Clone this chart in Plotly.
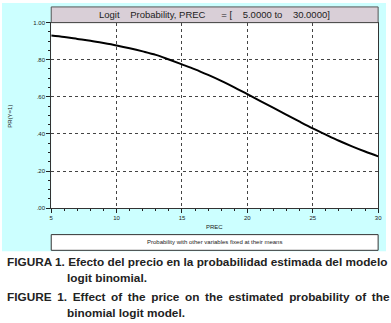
import plotly.graph_objects as go

W, H = 391, 323

prec = [5, 6, 7, 8, 9, 10, 11, 12, 13, 14, 15, 16, 17, 18, 19, 20,
        21, 22, 23, 24, 25, 26, 27, 28, 29, 30]
prob = [0.930, 0.922, 0.912, 0.902, 0.890, 0.877, 0.862, 0.845, 0.826, 0.801,
        0.775, 0.748, 0.718, 0.686, 0.651, 0.614, 0.577, 0.540, 0.503, 0.466,
        0.430, 0.396, 0.363, 0.333, 0.305, 0.279]

x_ticks = [5, 10, 15, 20, 25, 30]
x_ticklabels = ["5", "10", "15", "20", "25", "30"]
y_ticks = [0, 0.2, 0.4, 0.6, 0.8, 1.0]
y_ticklabels = [".00", ".20", ".40", ".60", ".80", "1.00"]

title_text = "Logit&nbsp;&nbsp;&nbsp;&nbsp;Probability, PREC&nbsp;&nbsp;&nbsp;&nbsp;&nbsp;&nbsp;= [&nbsp;&nbsp;&nbsp;&nbsp;5.0000 to&nbsp;&nbsp;&nbsp;&nbsp;30.0000]"
legend_text = "Probability with other variables fixed at their means"
caption_lines = [
    "FIGURA 1. Efecto del precio en la probabilidad estimada del modelo",
    "logit binomial.",
    "FIGURE 1. Effect of the price on the estimated probability of the",
    "binomial logit model.",
]

def px(v):
    return v / W

def py(v):
    return 1 - v / H

L, R, T, B = 50, 382, 20, 209

fig = go.Figure()
fig.add_trace(go.Scatter(x=prec, y=prob, mode="lines",
                         line=dict(color="black", width=2), line_shape="spline",
                         showlegend=False, hoverinfo="skip"))

axis_font = dict(family="Liberation Sans, Arial", size=6, color="#222")
cap_font = dict(family="Liberation Sans, Arial", size=11.8, color="#222")

def justify(s):
    return s.replace(" ", " &#8201;")

fig.update_layout(
    width=W, height=H,
    margin=dict(l=0, r=0, t=0, b=0),
    paper_bgcolor="white",
    plot_bgcolor="white",
    xaxis=dict(
        domain=[px(L), px(R)], range=[5, 30],
        tickvals=x_ticks, ticktext=x_ticklabels,
        ticks="outside", ticklen=4, tickcolor="#222",
        tickfont=axis_font,
        showline=True, linecolor="#333", linewidth=1, mirror=True,
        showgrid=True, gridcolor="#444", griddash="dot", gridwidth=1,
        minor=dict(dtick=1, ticks="outside", ticklen=2, tickcolor="#222", showgrid=False),
        zeroline=False, fixedrange=True,
    ),
    yaxis=dict(
        domain=[py(B), py(T)], range=[0, 1],
        tickvals=y_ticks, ticktext=y_ticklabels,
        ticks="outside", ticklen=4, tickcolor="#222",
        tickfont=axis_font,
        showline=True, linecolor="#333", linewidth=1, mirror=True,
        showgrid=True, gridcolor="#444", griddash="dot", gridwidth=1,
        minor=dict(dtick=0.05, ticks="outside", ticklen=2, tickcolor="#222", showgrid=False),
        zeroline=False, fixedrange=True,
    ),
    shapes=[
        dict(type="rect", xref="paper", yref="paper", layer="below",
             x0=0, x1=px(390), y0=py(253), y1=1,
             fillcolor="#CCFFFF", line=dict(width=0)),
        dict(type="rect", xref="paper", yref="paper", layer="below",
             x0=px(L), x1=px(R), y0=py(T), y1=py(4),
             fillcolor="#D9CFD7", line=dict(width=0)),
        dict(type="rect", xref="paper", yref="paper", layer="below",
             x0=px(L), x1=px(R), y0=py(B), y1=py(T),
             fillcolor="white", line=dict(width=0)),
        dict(type="rect", xref="paper", yref="paper",
             x0=px(L), x1=px(R), y0=py(T), y1=py(4),
             fillcolor="rgba(0,0,0,0)", line=dict(color="#555", width=1)),
        dict(type="rect", xref="paper", yref="paper",
             x0=px(L), x1=px(R), y0=py(252), y1=py(236),
             fillcolor="white", line=dict(color="#333", width=1), layer="below"),
    ],
    annotations=[
        dict(text=title_text, xref="paper", yref="paper",
             x=px(216), y=py(12), xanchor="center", yanchor="middle",
             showarrow=False, font=dict(family="Liberation Sans, Arial", size=9.5, color="#222")),
        dict(text="PREC", xref="paper", yref="paper",
             x=px((L + R) / 2), y=py(228), xanchor="center", yanchor="middle",
             showarrow=False, font=dict(family="Liberation Sans, Arial", size=6, color="#222")),
        dict(text="PR(Y=1)", xref="paper", yref="paper", textangle=-90,
             x=px(8), y=py(115), xanchor="center", yanchor="middle",
             showarrow=False, font=dict(family="Liberation Sans, Arial", size=6, color="#222")),
        dict(text=legend_text, xref="paper", yref="paper",
             x=px((L + R) / 2), y=py(244), xanchor="center", yanchor="middle",
             showarrow=False, font=dict(family="Liberation Sans, Arial", size=6, color="#222")),
        dict(text="<b>" + caption_lines[0] + "</b>", xref="paper", yref="paper",
             x=px(3), y=py(264), xanchor="left", yanchor="middle",
             showarrow=False, font=cap_font),
        dict(text="<b>" + caption_lines[1] + "</b>", xref="paper", yref="paper",
             x=px(64), y=py(280), xanchor="left", yanchor="middle",
             showarrow=False, font=cap_font),
        dict(text="<b>" + justify(caption_lines[2]) + "</b>", xref="paper", yref="paper",
             x=px(3), y=py(300), xanchor="left", yanchor="middle",
             showarrow=False, font=cap_font),
        dict(text="<b>" + caption_lines[3] + "</b>", xref="paper", yref="paper",
             x=px(64), y=py(316), xanchor="left", yanchor="middle",
             showarrow=False, font=cap_font),
    ],
)

fig.write_html("out.html", config={"displayModeBar": False},
               post_script="document.body.style.margin='0';document.body.style.padding='0';document.body.style.overflow='hidden';")
